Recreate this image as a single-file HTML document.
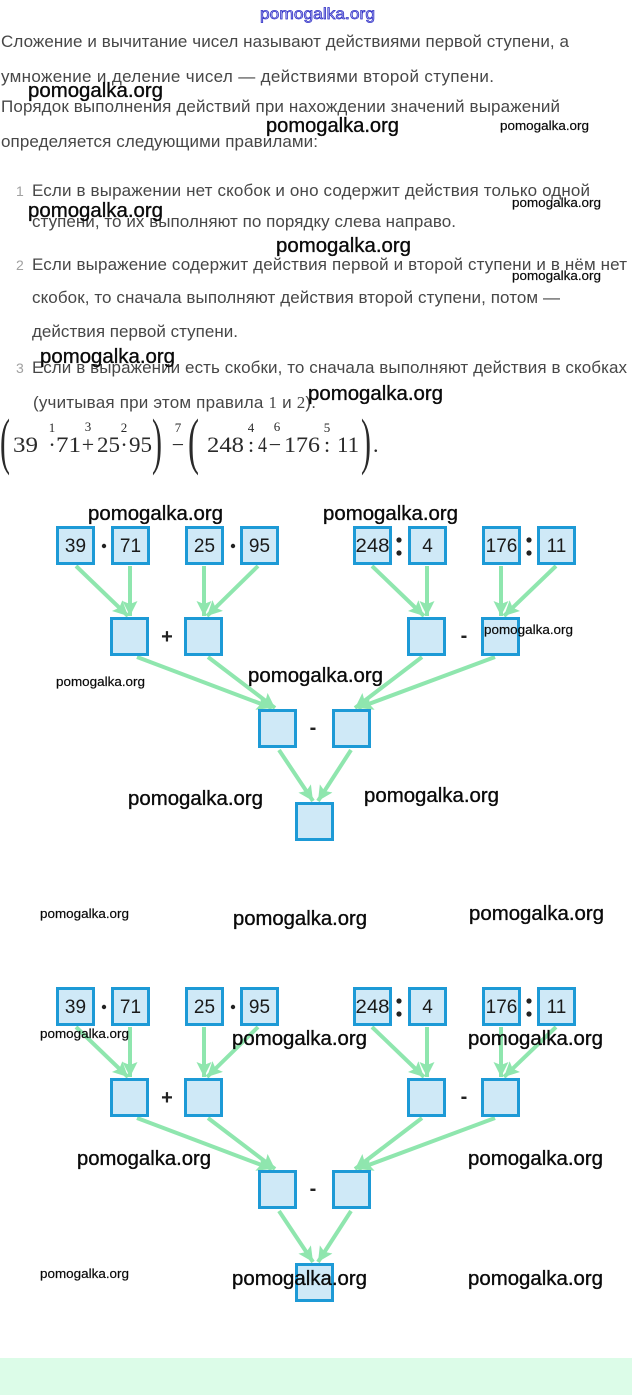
<!DOCTYPE html>
<html><head><meta charset="utf-8"><style>
html,body{margin:0;padding:0;background:#fff;}
body{width:632px;height:1395px;overflow:hidden;}
svg{display:block;}
.b{font-family:"Liberation Sans",sans-serif;font-size:17px;fill:#474747;}
.n{font-family:"Liberation Sans",sans-serif;font-size:14px;fill:#a0a0a0;}
.m{font-family:"Liberation Serif",serif;font-size:22px;fill:#2a2a2a;}
.ms{font-family:"Liberation Serif",serif;font-size:13px;fill:#2a2a2a;}
.p{font-family:"Liberation Serif",serif;font-size:62px;fill:#2a2a2a;}
.w{font-family:"Liberation Sans",sans-serif;font-size:20px;fill:#0a0a0a;stroke:#0a0a0a;stroke-width:0.35;}
.ws{font-family:"Liberation Sans",sans-serif;font-size:13px;fill:#0a0a0a;stroke:#0a0a0a;stroke-width:0.2;}
.bx{fill:#cfe9f7;stroke:#1d9ad6;stroke-width:3;}
.bn{font-family:"Liberation Sans",sans-serif;font-size:19px;fill:#1a1a1a;text-anchor:middle;}
.op{font-family:"Liberation Sans",sans-serif;font-size:20px;font-weight:bold;fill:#222;text-anchor:middle;}
.ar{stroke:#8fe6ae;stroke-width:4;fill:none;marker-end:url(#ah);}
</style></head><body>
<svg width="632" height="1395" viewBox="0 0 632 1395" xmlns="http://www.w3.org/2000/svg">
<defs>
<marker id="ah" markerUnits="userSpaceOnUse" markerWidth="18" markerHeight="18" refX="15" refY="7.5" orient="auto"><path d="M0,0 L15,7.5 L0,15 L3,7.5 z" fill="#8fe6ae"/></marker>
</defs>
<rect x="0" y="0" width="632" height="1395" fill="#fff"/>

<!-- top blue watermark -->
<text x="260" y="19" font-family="Liberation Sans, sans-serif" font-size="16" fill="#b8b8f0" stroke="#2a2ac4" stroke-width="0.7" textLength="115" lengthAdjust="spacingAndGlyphs">pomogalka.org</text>

<!-- body text -->
<text class="b" x="1" y="47" textLength="568" lengthAdjust="spacing">Сложение и вычитание чисел называют действиями первой ступени, а</text>
<text class="b" x="1" y="82" textLength="493" lengthAdjust="spacing">умножение и деление чисел — действиями второй ступени.</text>
<text class="b" x="1" y="112" textLength="559" lengthAdjust="spacing">Порядок выполнения действий при нахождении значений выражений</text>
<text class="b" x="1" y="147" textLength="317" lengthAdjust="spacing">определяется следующими правилами:</text>

<text class="n" x="16" y="196">1</text>
<text class="b" x="32" y="196" textLength="558" lengthAdjust="spacing">Если в выражении нет скобок и оно содержит действия только одной</text>
<text class="b" x="32" y="227" textLength="424" lengthAdjust="spacing">ступени, то их выполняют по порядку слева направо.</text>
<text class="n" x="16" y="270">2</text>
<text class="b" x="32" y="270" textLength="595" lengthAdjust="spacing">Если выражение содержит действия первой и второй ступени и в нём нет</text>
<text class="b" x="32" y="303" textLength="528" lengthAdjust="spacing">скобок, то сначала выполняют действия второй ступени, потом —</text>
<text class="b" x="32" y="337" textLength="206" lengthAdjust="spacing">действия первой ступени.</text>
<text class="n" x="16" y="373">3</text>
<text class="b" x="32" y="373" textLength="595" lengthAdjust="spacing">Если в выражении есть скобки, то сначала выполняют действия в скобках</text>
<text class="b" x="33" y="408" textLength="283" lengthAdjust="spacing">(учитывая при этом правила <tspan font-family="Liberation Serif, serif">1</tspan> и <tspan font-family="Liberation Serif, serif">2</tspan>).</text>

<!-- math expression -->
<text class="p" x="0" y="462" textLength="10" lengthAdjust="spacingAndGlyphs">(</text>
<text class="m" x="13" y="452" textLength="25" lengthAdjust="spacingAndGlyphs">39</text>
<text class="m" x="52" y="452" text-anchor="middle">·</text>
<text class="ms" x="52" y="432" text-anchor="middle">1</text>
<text class="m" x="56" y="452" textLength="25" lengthAdjust="spacingAndGlyphs">71</text>
<text class="m" x="88" y="452" text-anchor="middle">+</text>
<text class="ms" x="88" y="431" text-anchor="middle">3</text>
<text class="m" x="97" y="452" textLength="23" lengthAdjust="spacingAndGlyphs">25</text>
<text class="m" x="124" y="452" text-anchor="middle">·</text>
<text class="ms" x="124" y="432" text-anchor="middle">2</text>
<text class="m" x="129" y="452" textLength="23" lengthAdjust="spacingAndGlyphs">95</text>
<text class="p" x="152" y="462" textLength="10" lengthAdjust="spacingAndGlyphs">)</text>
<text class="m" x="178" y="452" text-anchor="middle">−</text>
<text class="ms" x="178" y="432" text-anchor="middle">7</text>
<text class="p" x="188" y="462" textLength="11" lengthAdjust="spacingAndGlyphs">(</text>
<text class="m" x="207" y="452" textLength="37" lengthAdjust="spacingAndGlyphs">248</text>
<text class="m" x="251" y="452" text-anchor="middle">:</text>
<text class="ms" x="251" y="432" text-anchor="middle">4</text>
<text class="m" x="258" y="452" textLength="9" lengthAdjust="spacingAndGlyphs">4</text>
<text class="m" x="275" y="452" text-anchor="middle">−</text>
<text class="ms" x="277" y="431" text-anchor="middle">6</text>
<text class="m" x="284" y="452" textLength="36" lengthAdjust="spacingAndGlyphs">176</text>
<text class="m" x="327" y="452" text-anchor="middle">:</text>
<text class="ms" x="327" y="432" text-anchor="middle">5</text>
<text class="m" x="337" y="452" textLength="22" lengthAdjust="spacingAndGlyphs">11</text>
<text class="p" x="361" y="462" textLength="10" lengthAdjust="spacingAndGlyphs">)</text>
<text class="m" x="373" y="452">.</text>

<!-- ===== DIAGRAM 1 ===== -->
<g>
<line class="ar" x1="76" y1="566" x2="128" y2="616"/>
<line class="ar" x1="130" y1="566" x2="130" y2="616"/>
<line class="ar" x1="204" y1="566" x2="204" y2="616"/>
<line class="ar" x1="258" y1="566" x2="207" y2="616"/>
<line class="ar" x1="372" y1="566" x2="424" y2="616"/>
<line class="ar" x1="427" y1="566" x2="427" y2="616"/>
<line class="ar" x1="501" y1="566" x2="501" y2="616"/>
<line class="ar" x1="556" y1="566" x2="504" y2="616"/>
<line class="ar" x1="137" y1="657" x2="272" y2="708"/>
<line class="ar" x1="208" y1="657" x2="275" y2="708"/>
<line class="ar" x1="422" y1="657" x2="355" y2="708"/>
<line class="ar" x1="495" y1="657" x2="358" y2="708"/>
<line class="ar" x1="279" y1="750" x2="313" y2="801"/>
<line class="ar" x1="351" y1="750" x2="318" y2="801"/>

<rect class="bx" x="57.5" y="527.5" width="36" height="36"/>
<rect class="bx" x="112.5" y="527.5" width="36" height="36"/>
<rect class="bx" x="186.5" y="527.5" width="36" height="36"/>
<rect class="bx" x="241.5" y="527.5" width="36" height="36"/>
<rect class="bx" x="354.5" y="527.5" width="36" height="36"/>
<rect class="bx" x="409.5" y="527.5" width="36" height="36"/>
<rect class="bx" x="483.5" y="527.5" width="36" height="36"/>
<rect class="bx" x="538.5" y="527.5" width="36" height="36"/>
<text class="bn" x="75.5" y="552">39</text>
<text class="bn" x="130.5" y="552">71</text>
<text class="bn" x="204.5" y="552">25</text>
<text class="bn" x="259.5" y="552">95</text>
<text class="bn" x="372.5" y="552" textLength="34" lengthAdjust="spacingAndGlyphs">248</text>
<text class="bn" x="427.5" y="552">4</text>
<text class="bn" x="501.5" y="552">176</text>
<text class="bn" x="556.5" y="552">11</text>
<circle cx="104" cy="546" r="2.2" fill="#222"/>
<circle cx="233" cy="546" r="2.2" fill="#222"/>
<circle cx="399" cy="540" r="2.6" fill="#222"/>
<circle cx="399" cy="553" r="2.6" fill="#222"/>
<circle cx="529" cy="540" r="2.6" fill="#222"/>
<circle cx="529" cy="553" r="2.6" fill="#222"/>

<rect class="bx" x="111.5" y="618.5" width="36" height="36"/>
<rect class="bx" x="185.5" y="618.5" width="36" height="36"/>
<rect class="bx" x="408.5" y="618.5" width="36" height="36"/>
<rect class="bx" x="482.5" y="618.5" width="36" height="36"/>
<text class="op" x="167" y="643">+</text>
<text class="op" x="464" y="642">-</text>

<rect class="bx" x="259.5" y="710.5" width="36" height="36"/>
<rect class="bx" x="333.5" y="710.5" width="36" height="36"/>
<text class="op" x="313" y="734">-</text>

<rect class="bx" x="296.5" y="803.5" width="36" height="36"/>
</g>

<!-- ===== DIAGRAM 2 ===== -->
<g>
<line class="ar" x1="76" y1="1027" x2="128" y2="1077"/>
<line class="ar" x1="130" y1="1027" x2="130" y2="1077"/>
<line class="ar" x1="204" y1="1027" x2="204" y2="1077"/>
<line class="ar" x1="258" y1="1027" x2="207" y2="1077"/>
<line class="ar" x1="372" y1="1027" x2="424" y2="1077"/>
<line class="ar" x1="427" y1="1027" x2="427" y2="1077"/>
<line class="ar" x1="501" y1="1027" x2="501" y2="1077"/>
<line class="ar" x1="556" y1="1027" x2="504" y2="1077"/>
<line class="ar" x1="137" y1="1118" x2="272" y2="1169"/>
<line class="ar" x1="208" y1="1118" x2="275" y2="1169"/>
<line class="ar" x1="422" y1="1118" x2="355" y2="1169"/>
<line class="ar" x1="495" y1="1118" x2="358" y2="1169"/>
<line class="ar" x1="279" y1="1211" x2="313" y2="1262"/>
<line class="ar" x1="351" y1="1211" x2="318" y2="1262"/>

<rect class="bx" x="57.5" y="988.5" width="36" height="36"/>
<rect class="bx" x="112.5" y="988.5" width="36" height="36"/>
<rect class="bx" x="186.5" y="988.5" width="36" height="36"/>
<rect class="bx" x="241.5" y="988.5" width="36" height="36"/>
<rect class="bx" x="354.5" y="988.5" width="36" height="36"/>
<rect class="bx" x="409.5" y="988.5" width="36" height="36"/>
<rect class="bx" x="483.5" y="988.5" width="36" height="36"/>
<rect class="bx" x="538.5" y="988.5" width="36" height="36"/>
<text class="bn" x="75.5" y="1013">39</text>
<text class="bn" x="130.5" y="1013">71</text>
<text class="bn" x="204.5" y="1013">25</text>
<text class="bn" x="259.5" y="1013">95</text>
<text class="bn" x="372.5" y="1013" textLength="34" lengthAdjust="spacingAndGlyphs">248</text>
<text class="bn" x="427.5" y="1013">4</text>
<text class="bn" x="501.5" y="1013">176</text>
<text class="bn" x="556.5" y="1013">11</text>
<circle cx="104" cy="1007" r="2.2" fill="#222"/>
<circle cx="233" cy="1007" r="2.2" fill="#222"/>
<circle cx="399" cy="1001" r="2.6" fill="#222"/>
<circle cx="399" cy="1014" r="2.6" fill="#222"/>
<circle cx="529" cy="1001" r="2.6" fill="#222"/>
<circle cx="529" cy="1014" r="2.6" fill="#222"/>

<rect class="bx" x="111.5" y="1079.5" width="36" height="36"/>
<rect class="bx" x="185.5" y="1079.5" width="36" height="36"/>
<rect class="bx" x="408.5" y="1079.5" width="36" height="36"/>
<rect class="bx" x="482.5" y="1079.5" width="36" height="36"/>
<text class="op" x="167" y="1104">+</text>
<text class="op" x="464" y="1103">-</text>

<rect class="bx" x="259.5" y="1171.5" width="36" height="36"/>
<rect class="bx" x="333.5" y="1171.5" width="36" height="36"/>
<text class="op" x="313" y="1195">-</text>

<rect class="bx" x="296.5" y="1264.5" width="36" height="36"/>
</g>

<!-- bottom band -->
<rect x="0" y="1358" width="632" height="37" fill="#dcfce8"/>

<!-- watermarks -->
<text class="w" x="28" y="97" textLength="135" lengthAdjust="spacingAndGlyphs">pomogalka.org</text>
<text class="w" x="266" y="132" textLength="133" lengthAdjust="spacingAndGlyphs">pomogalka.org</text>
<text class="ws" x="500" y="130" textLength="89" lengthAdjust="spacingAndGlyphs">pomogalka.org</text>
<text class="w" x="28" y="217" textLength="135" lengthAdjust="spacingAndGlyphs">pomogalka.org</text>
<text class="ws" x="512" y="207" textLength="89" lengthAdjust="spacingAndGlyphs">pomogalka.org</text>
<text class="w" x="276" y="252" textLength="135" lengthAdjust="spacingAndGlyphs">pomogalka.org</text>
<text class="ws" x="512" y="280" textLength="89" lengthAdjust="spacingAndGlyphs">pomogalka.org</text>
<text class="w" x="40" y="363" textLength="135" lengthAdjust="spacingAndGlyphs">pomogalka.org</text>
<text class="w" x="308" y="400" textLength="135" lengthAdjust="spacingAndGlyphs">pomogalka.org</text>
<text class="w" x="88" y="520" textLength="135" lengthAdjust="spacingAndGlyphs">pomogalka.org</text>
<text class="w" x="323" y="520" textLength="135" lengthAdjust="spacingAndGlyphs">pomogalka.org</text>
<text class="ws" x="484" y="634" textLength="89" lengthAdjust="spacingAndGlyphs">pomogalka.org</text>
<text class="ws" x="56" y="686" textLength="89" lengthAdjust="spacingAndGlyphs">pomogalka.org</text>
<text class="w" x="248" y="682" textLength="135" lengthAdjust="spacingAndGlyphs">pomogalka.org</text>
<text class="w" x="128" y="805" textLength="135" lengthAdjust="spacingAndGlyphs">pomogalka.org</text>
<text class="w" x="364" y="802" textLength="135" lengthAdjust="spacingAndGlyphs">pomogalka.org</text>
<text class="ws" x="40" y="918" textLength="89" lengthAdjust="spacingAndGlyphs">pomogalka.org</text>
<text class="w" x="233" y="925" textLength="134" lengthAdjust="spacingAndGlyphs">pomogalka.org</text>
<text class="w" x="469" y="920" textLength="135" lengthAdjust="spacingAndGlyphs">pomogalka.org</text>
<text class="ws" x="40" y="1038" textLength="89" lengthAdjust="spacingAndGlyphs">pomogalka.org</text>
<text class="w" x="232" y="1045" textLength="135" lengthAdjust="spacingAndGlyphs">pomogalka.org</text>
<text class="w" x="468" y="1045" textLength="135" lengthAdjust="spacingAndGlyphs">pomogalka.org</text>
<text class="w" x="77" y="1165" textLength="134" lengthAdjust="spacingAndGlyphs">pomogalka.org</text>
<text class="w" x="468" y="1165" textLength="135" lengthAdjust="spacingAndGlyphs">pomogalka.org</text>
<text class="ws" x="40" y="1278" textLength="89" lengthAdjust="spacingAndGlyphs">pomogalka.org</text>
<text class="w" x="232" y="1285" textLength="135" lengthAdjust="spacingAndGlyphs">pomogalka.org</text>
<text class="w" x="468" y="1285" textLength="135" lengthAdjust="spacingAndGlyphs">pomogalka.org</text>
</svg>
</body></html>
